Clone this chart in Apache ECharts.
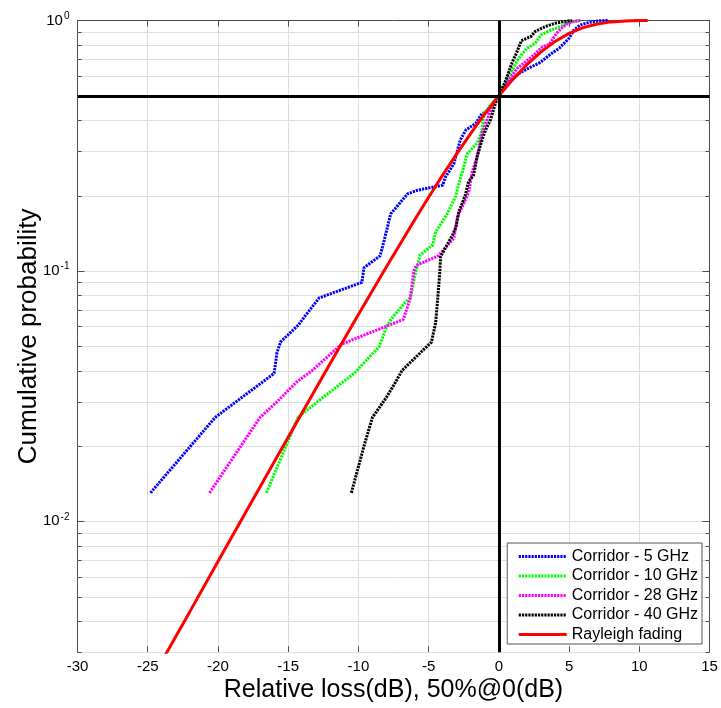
<!DOCTYPE html>
<html>
<head>
<meta charset="utf-8">
<script src="https://cdn.jsdelivr.net/npm/echarts@6/dist/echarts.min.js"></script>
<style>
  html, body { margin: 0; padding: 0; background: #fff; }
  #chart { width: 721px; height: 708px; }
</style>
</head>
<body>
<div id="chart"></div>
<script>
// Relative loss (dB) and empirical CDF for each measured band
const loss5 = [-24.8, -20.2, -16.0, -15.8, -15.55, -14.25, -13.8, -12.8, -9.75, -9.6, -8.45, -8.2, -7.7, -6.9, -6.5, -5.8, -4.0, -3.8, -3.2, -2.75, -2.35, -1.65, -1.2, -0.85, -0.35, 0, 0.25, 0.85, 1.55, 2.1, 2.95, 3.7, 4.3, 5.0, 5.35, 5.8, 6.5, 7.2, 7.8];
const cdf5  = [0.013, 0.026, 0.039, 0.047, 0.052, 0.061, 0.066, 0.078, 0.090, 0.103, 0.115, 0.130, 0.169, 0.191, 0.203, 0.210, 0.220, 0.237, 0.268, 0.333, 0.365, 0.388, 0.425, 0.431, 0.474, 0.5, 0.527, 0.578, 0.620, 0.644, 0.680, 0.735, 0.775, 0.849, 0.916, 0.960, 0.985, 0.998, 1.0];

const loss10 = [-16.55, -14.3, -12.6, -10.3, -8.5, -8.0, -7.6, -6.65, -6.3, -5.9, -5.6, -4.7, -4.5, -3.7, -3.1, -2.85, -2.5, -2.25, -1.55, -1.2, -1.05, -0.6, -0.15, 0, 0.25, 0.85, 1.4, 2.0, 2.6, 3.0, 3.7, 4.4, 4.8, 5.1, 5.8];
const cdf10  = [0.013, 0.026, 0.031, 0.039, 0.050, 0.060, 0.065, 0.075, 0.078, 0.100, 0.116, 0.127, 0.143, 0.168, 0.197, 0.222, 0.260, 0.294, 0.323, 0.365, 0.425, 0.459, 0.488, 0.5, 0.543, 0.615, 0.706, 0.774, 0.811, 0.875, 0.916, 0.945, 0.974, 0.989, 1.0];

const loss28 = [-20.6, -17.0, -15.8, -14.4, -13.3, -11.2, -6.8, -6.3, -6.05, -5.9, -4.3, -3.8, -3.2, -2.95, -2.5, -2.15, -1.9, -1.55, -1.2, -0.85, -0.5, -0.25, 0, 0.7, 1.3, 2.0, 2.5, 3.1, 3.6, 4.05, 4.4, 4.8, 5.3, 5.8];
const cdf28  = [0.013, 0.026, 0.030, 0.036, 0.040, 0.051, 0.064, 0.078, 0.100, 0.105, 0.115, 0.124, 0.135, 0.164, 0.186, 0.206, 0.248, 0.285, 0.354, 0.400, 0.452, 0.481, 0.5, 0.575, 0.644, 0.690, 0.730, 0.785, 0.805, 0.880, 0.925, 0.965, 0.990, 1.0];

const loss40 = [-10.5, -9.6, -9.0, -8.05, -7.35, -6.9, -4.8, -4.5, -4.3, -4.2, -4.15, -3.3, -3.05, -2.85, -2.4, -2.15, -1.8, -1.55, -1.2, -0.95, -0.6, -0.25, 0, 0.15, 0.5, 0.95, 1.25, 1.6, 2.3, 2.6, 3.3, 4.0, 4.6, 5.2];
const cdf40  = [0.013, 0.020, 0.026, 0.031, 0.036, 0.040, 0.052, 0.062, 0.084, 0.100, 0.114, 0.139, 0.150, 0.172, 0.200, 0.228, 0.241, 0.285, 0.333, 0.365, 0.400, 0.466, 0.5, 0.52, 0.578, 0.68, 0.74, 0.830, 0.865, 0.905, 0.945, 0.975, 0.990, 1.0];

// Rayleigh fading reference curve (median at 0 dB)
const lossRay = [-26, -25, -24, -23, -22, -20, -18, -16, -14, -12, -10, -8, -6, -5, -4, -3, -2, -1, 0, 1, 2, 3, 4, 5, 6, 7, 8, 9, 10, 10.6];
const cdfRay  = [0.00174, 0.00219, 0.00276, 0.00347, 0.00436, 0.00691, 0.01093, 0.01726, 0.02722, 0.04279, 0.06697, 0.1040, 0.1598, 0.1968, 0.2412, 0.2935, 0.3543, 0.4234, 0.5, 0.5821, 0.6667, 0.7492, 0.8246, 0.8883, 0.9366, 0.9690, 0.9874, 0.99594, 0.99902, 0.99965];

const seriesNames = ['Corridor - 5 GHz', 'Corridor - 10 GHz', 'Corridor - 28 GHz', 'Corridor - 40 GHz', 'Rayleigh fading'];

// Axis ranges and the 2..9 sub-decade grid positions
const xMin = -30, xMax = 15, xStep = 5;
const yMin = 0.003, yMax = 1;
const minorGrid = [0.003, 0.004, 0.005, 0.006, 0.007, 0.008, 0.009,
                   0.02, 0.03, 0.04, 0.05, 0.06, 0.07, 0.08, 0.09,
                   0.2, 0.3, 0.4, 0.5, 0.6, 0.7, 0.8, 0.9];

const zip = (xs, ys) => xs.map((x, i) => [x, ys[i]]);
const FONT = '"Liberation Sans", Arial, sans-serif';
const AXIS_COLOR = '#4d4d4d';
const GRID_COLOR = '#dedede';

const dotted = (name, color, xs, ys) => ({
  name, type: 'line', data: zip(xs, ys),
  symbol: 'none', showSymbol: false, clip: true,
  lineStyle: { color, width: 3, type: [2.2, 1], cap: 'butt' },
  itemStyle: { color },
  emphasis: { disabled: true },
  z: 3
});

const chart = echarts.init(document.getElementById('chart'), null, { renderer: 'canvas' });

chart.setOption({
  animation: false,
  backgroundColor: '#ffffff',
  textStyle: { fontFamily: FONT },
  grid: { left: 77.5, right: 11.5, top: 20.5, bottom: 55.7, containLabel: false, outerBoundsMode: 'none' },
  xAxis: [{
    type: 'value', min: xMin, max: xMax, interval: xStep,
    position: 'bottom',
    name: 'Relative loss(dB), 50%@0(dB)', nameLocation: 'middle', nameGap: 25.5,
    nameMoveOverlap: false,
    nameTextStyle: { fontSize: 25, color: '#000', fontFamily: FONT },
    axisLine: { show: true, onZero: false, lineStyle: { color: AXIS_COLOR, width: 1 } },
    axisTick: { show: true, inside: true, length: 6, lineStyle: { color: AXIS_COLOR } },
    axisLabel: { fontSize: 15, color: '#000', margin: 7, fontFamily: FONT },
    splitLine: { show: true, lineStyle: { color: GRID_COLOR, width: 1 } }
  }, {
    type: 'value', min: xMin, max: xMax, interval: xStep,
    position: 'top',
    axisLine: { show: true, onZero: false, lineStyle: { color: AXIS_COLOR, width: 1 } },
    axisTick: { show: true, inside: true, length: 6, lineStyle: { color: AXIS_COLOR } },
    axisLabel: { show: false },
    splitLine: { show: false }
  }],
  yAxis: [{
    type: 'log', logBase: 10, min: yMin, max: yMax,
    position: 'left',
    name: 'Cumulative probability', nameLocation: 'middle', nameGap: 36,
    nameMoveOverlap: false,
    nameTextStyle: { fontSize: 26, color: '#000', fontFamily: FONT },
    axisLine: { show: true, onZero: false, lineStyle: { color: AXIS_COLOR, width: 1 } },
    axisTick: { show: true, inside: true, length: 7, lineStyle: { color: AXIS_COLOR } },
    axisLabel: {
      showMinLabel: false, margin: 8, color: '#000',
      formatter: (v) => {
        const e = Math.log10(v);
        if (Math.abs(e - Math.round(e)) > 1e-6) return '';
        return '{b|10}{s|' + Math.round(e) + '}';
      },
      rich: {
        b: { fontSize: 15, fontFamily: FONT, color: '#000' },
        s: { fontSize: 10, fontFamily: FONT, color: '#000', padding: [0, 0, 9, 1] }
      }
    },
    splitLine: { show: true, lineStyle: { color: GRID_COLOR, width: 1 } }
  }, {
    type: 'log', logBase: 10, min: yMin, max: yMax,
    position: 'right',
    axisLine: { show: true, onZero: false, lineStyle: { color: AXIS_COLOR, width: 1 } },
    axisTick: { show: true, inside: true, length: 7, lineStyle: { color: AXIS_COLOR } },
    axisLabel: { show: false },
    splitLine: { show: false }
  }],
  legend: {
    orient: 'vertical', right: 19, bottom: 64,
    data: seriesNames,
    itemWidth: 48, itemHeight: 14, itemGap: 3.5,
    padding: [5.5, 4, 1.5, 10],
    backgroundColor: '#ffffff', borderColor: '#555555', borderWidth: 1, borderRadius: 0,
    selectedMode: false,
    itemStyle: { opacity: 0, borderWidth: 0 },
    lineStyle: { width: 3 },
    textStyle: { fontSize: 16, color: '#000', fontFamily: FONT }
  },
  series: [
    {
      // sub-decade grid lines with short inward ticks on both vertical axes
      name: 'minor-grid', type: 'custom', silent: true, z: 1,
      data: minorGrid.map(v => [xMin, v]),
      encode: { x: 0, y: 1 },
      renderItem: (params, api) => {
        const p = api.coord([api.value(0), api.value(1)]);
        const left = params.coordSys.x, right = params.coordSys.x + params.coordSys.width;
        const y = Math.round(p[1]) + 0.5;
        const children = [
          { type: 'line', shape: { x1: left, y1: y, x2: right, y2: y }, style: { stroke: GRID_COLOR, lineWidth: 1 } },
          { type: 'line', shape: { x1: left, y1: y, x2: left + 4, y2: y }, style: { stroke: AXIS_COLOR, lineWidth: 1 } },
          { type: 'line', shape: { x1: right - 4, y1: y, x2: right, y2: y }, style: { stroke: AXIS_COLOR, lineWidth: 1 } }
        ];
        return { type: 'group', children };
      }
    },
    dotted(seriesNames[0], '#0000ff', loss5, cdf5),
    dotted(seriesNames[1], '#00ff00', loss10, cdf10),
    dotted(seriesNames[2], '#ff00ff', loss28, cdf28),
    dotted(seriesNames[3], '#000000', loss40, cdf40),
    {
      name: seriesNames[4], type: 'line', data: zip(lossRay, cdfRay),
      symbol: 'none', showSymbol: false, clip: true, smooth: false,
      lineStyle: { color: '#ff0000', width: 3 },
      itemStyle: { color: '#ff0000' },
      emphasis: { disabled: true },
      z: 4
    },
    {
      // median reference lines: 0 dB and 50 %
      name: 'median', type: 'line', data: [], silent: true, z: 5,
      markLine: {
        silent: true, symbol: 'none', animation: false,
        label: { show: false },
        lineStyle: { color: '#000000', width: 3, type: 'solid' },
        emphasis: { disabled: true },
        data: [{ xAxis: 0 }, { yAxis: 0.5 }]
      }
    }
  ]
});
</script>
</body>
</html>
